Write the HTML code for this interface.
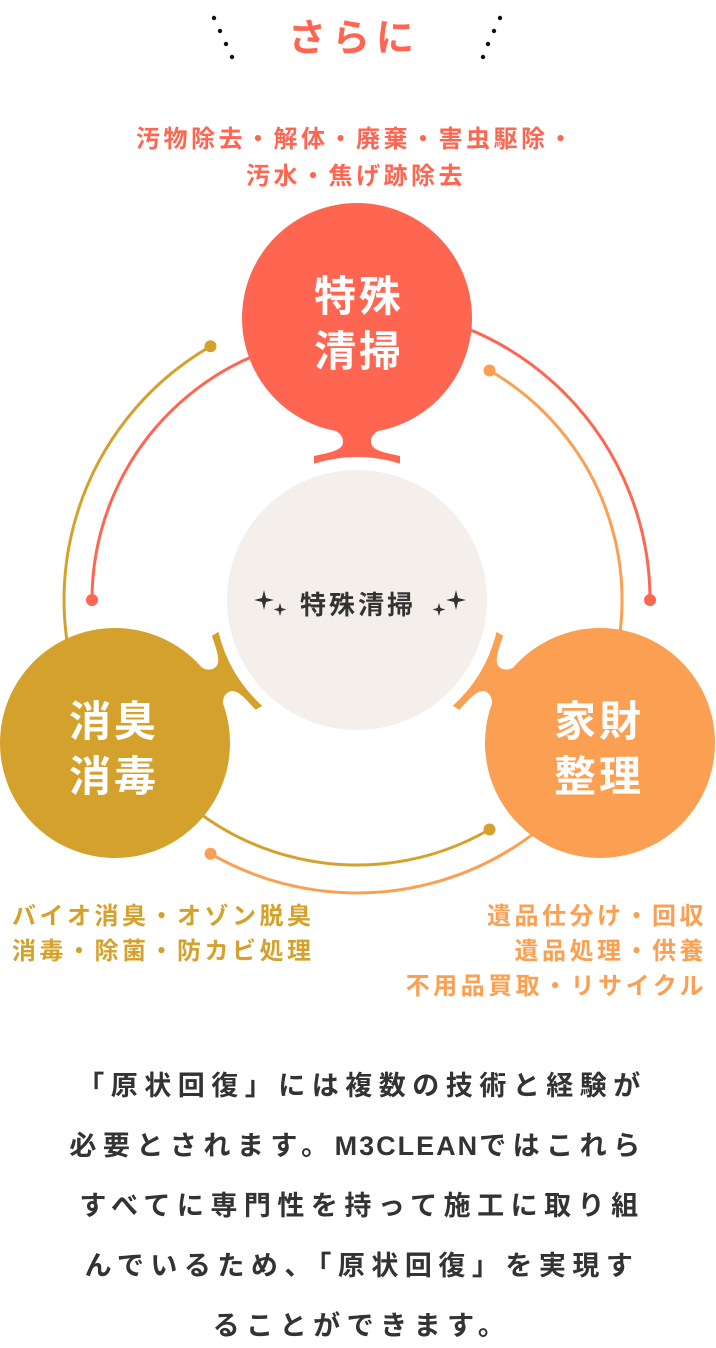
<!DOCTYPE html>
<html><head><meta charset="utf-8"><style>
html,body{margin:0;padding:0;background:#fff}
svg{display:block}
text{font-family:"Liberation Sans","Noto Sans CJK JP",sans-serif;font-weight:700}
</style></head><body>
<svg width="716" height="1348" viewBox="0 0 716 1348" xmlns="http://www.w3.org/2000/svg">
<g fill="#111">
<circle cx="214" cy="18" r="2.2"/><circle cx="220" cy="31" r="2.2"/><circle cx="226" cy="44" r="2.2"/><circle cx="232" cy="57" r="2.2"/>
<circle cx="500" cy="18" r="2.2"/><circle cx="494" cy="31" r="2.2"/><circle cx="488" cy="44" r="2.2"/><circle cx="483" cy="57" r="2.2"/>
</g>
<text x="354" y="51" font-size="38" fill="#FF6652" text-anchor="middle" letter-spacing="6">さらに</text>
<text x="356" y="147" font-size="24" fill="#FF6652" text-anchor="middle" letter-spacing="3.5">汚物除去・解体・廃棄・害虫駆除・</text>
<text x="356" y="184" font-size="24" fill="#FF6652" text-anchor="middle" letter-spacing="3.5">汚水・焦げ跡除去</text>

<g fill="none" stroke-width="3">
<path d="M357 335 A265 265 0 0 0 92 600" stroke="#FF6652"/>
<path d="M357 307 A293 293 0 0 1 650 600" stroke="#FF6652"/>
<path d="M210.5 346.3 A293 293 0 0 0 104.8 749" stroke="#D4A22C"/>
<path d="M128.9 734.9 A265 265 0 0 0 489.5 829.5" stroke="#D4A22C"/>
<path d="M489.5 370.5 A265 265 0 0 1 585.1 734.9" stroke="#FBA052"/>
<path d="M609.2 749 A293 293 0 0 1 210.5 853.7" stroke="#FBA052"/>
</g>
<circle cx="92" cy="600" r="6" fill="#FF6652"/>
<circle cx="650" cy="600" r="6" fill="#FF6652"/>
<circle cx="210.5" cy="346.3" r="6" fill="#D4A22C"/>
<circle cx="489.5" cy="829.5" r="6" fill="#D4A22C"/>
<circle cx="489.5" cy="370.5" r="6" fill="#FBA052"/>
<circle cx="210.5" cy="853.7" r="6" fill="#FBA052"/>

<circle cx="357" cy="600" r="130" fill="#F5EFEC"/>
<g fill="#333">
<path d="M264 590 l2 8 8 2 -8 2 -2 8 -2 -8 -8 -2 8 -2z"/>
<path d="M280 603 l1.5 5 5 1.5 -5 1.5 -1.5 5 -1.5 -5 -5 -1.5 5 -1.5z"/>
<path d="M456 590 l2 8 8 2 -8 2 -2 8 -2 -8 -8 -2 8 -2z"/>
<path d="M439 603 l1.5 5 5 1.5 -5 1.5 -1.5 5 -1.5 -5 -5 -1.5 5 -1.5z"/>
</g>
<text x="358" y="614" font-size="26" fill="#333" text-anchor="middle" letter-spacing="3">特殊清掃</text>

<g fill="#FF6652" transform="translate(357,318)">
<circle r="115"/>
<path d="M-52 98 C-20 112 -14 115 -14 124 C-14 133 -30 135 -43 138 L-43 145.6 Q0 132.4 43 145.6 L43 138 C30 135 14 133 14 124 C14 115 20 112 52 98Z"/>
</g>
<g fill="#D4A22C" transform="translate(115,743) rotate(-120.6)">
<circle r="115"/>
<path d="M-52 98 C-20 112 -14 115 -14 124 C-14 133 -30 135 -43 138 L-43 145.6 Q0 132.4 43 145.6 L43 138 C30 135 14 133 14 124 C14 115 20 112 52 98Z"/>
</g>
<g fill="#FBA052" transform="translate(600,743) rotate(120.6)">
<circle r="115"/>
<path d="M-52 98 C-20 112 -14 115 -14 124 C-14 133 -30 135 -43 138 L-43 145.6 Q0 132.4 43 145.6 L43 138 C30 135 14 133 14 124 C14 115 20 112 52 98Z"/>
</g>
<g fill="#fff" font-size="42" text-anchor="middle" letter-spacing="3">
<text x="359" y="311">特殊</text><text x="359" y="366">清掃</text>
<text x="114" y="736">消臭</text><text x="114" y="791">消毒</text>
<text x="599" y="736">家財</text><text x="599" y="791">整理</text>
</g>

<g font-size="24" letter-spacing="3.5">
<text x="12" y="924" fill="#D4A22C">バイオ消臭・オゾン脱臭</text>
<text x="12" y="959" fill="#D4A22C">消毒・除菌・防カビ処理</text>
<text x="707" y="924" fill="#FBA052" text-anchor="end">遺品仕分け・回収</text>
<text x="707" y="959" fill="#FBA052" text-anchor="end">遺品処理・供養</text>
<text x="707" y="994" fill="#FBA052" text-anchor="end">不用品買取・リサイクル</text>
</g>

<g font-size="27" fill="#333" text-anchor="middle" style="font-weight:500" letter-spacing="6.5">
<text x="362" y="1095">「原状回復」には複数の技術と経験が</text>
<text x="358" y="1155">必要とされます。<tspan letter-spacing="2">M3CLEAN</tspan>ではこれら</text>
<text x="362" y="1215">すべてに専門性を持って施工に取り組</text>
<text x="362" y="1275">んでいるため、「原状回復」を実現す</text>
<text x="362" y="1335">ることができます。</text>
</g>
</svg>
</body></html>
